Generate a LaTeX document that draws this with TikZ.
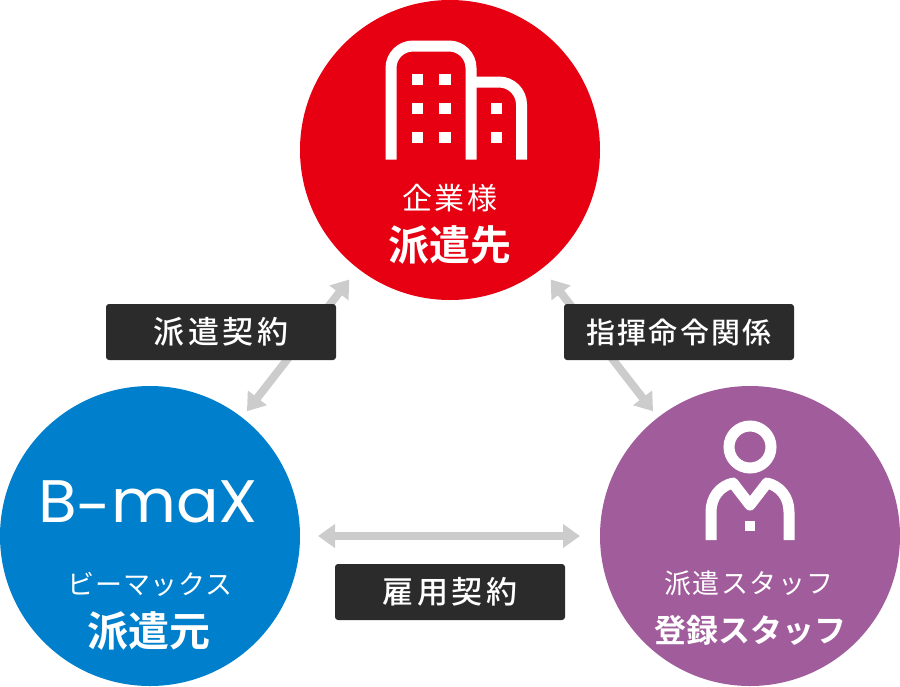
\documentclass[tikz,border=0pt]{standalone}
\usepackage{fontspec}
\usetikzlibrary{arrows.meta}
\setmainfont{Noto Sans CJK JP}[BoldFont={Noto Sans CJK JP Bold}]
\newfontfamily\tagfont{Noto Sans CJK JP Medium}
\newfontfamily\logofont{Poppins}
\definecolor{cred}{HTML}{E60012}
\definecolor{cblue}{HTML}{0080CC}
\definecolor{cpurple}{HTML}{A05C9B}
\definecolor{cgrey}{HTML}{CCCCCC}
\definecolor{cbox}{HTML}{2B2B2B}
\newcommand{\jp}[2]{\fontsize{#1}{#1}\selectfont\addfontfeatures{LetterSpace=#2}}
\tikzset{
  party/.style={circle,minimum size=300pt,inner sep=0pt,outer sep=0pt,draw=none},
  link/.style={draw=cgrey,line width=8pt,{Triangle[length=17pt,width=23pt]}-{Triangle[length=17pt,width=23pt]}},
  tag/.style={fill=cbox,rounded corners=3pt,minimum width=230pt,minimum height=56pt,inner sep=0pt,outer sep=0pt,text=white,font=\tagfont},
  caption/.style={text=white,inner sep=0pt,outer sep=0pt,anchor=center},
  icon/.style={draw=white,line width=11pt,line join=round},
  win/.style={fill=white,draw=none}
}
\begin{document}
\begin{tikzpicture}[x=1pt,y=-1pt]
\useasboundingbox (0,0) rectangle (900,686);
\node[party,fill=cred] (client) at (450,150) {};
\node[party,fill=cblue] (bmax) at (150,536) {};
\node[party,fill=cpurple] (staff) at (750,536) {};
% connectors
\draw[link,shorten <=14pt,shorten >=8pt] (client) -- (staff);
\draw[link,shorten <=14pt,shorten >=8pt] (client) -- (bmax);
\draw[link,shorten <=18pt,shorten >=20pt] (bmax) -- (staff);
% tags
\node[tag] (t1) at (221,332) {\jp{31}{12}派遣契約};
\node[tag] (t2) at (679,332) {\jp{29}{7}指揮命令関係};
\node[tag] (t3) at (450,592) {\jp{31}{12}雇用契約};
% building icon
\draw[icon] (391,159.5) -- (391,68) arc[start angle=180,end angle=270,radius=22] -- (449,46) arc[start angle=270,end angle=360,radius=22] -- (471,159.5);
\draw[icon] (471,82) -- (499,82) arc[start angle=270,end angle=360,radius=22.5] -- (521.5,159.5);
\foreach \x in {411.5,439}{\foreach \y in {73.5,102.5,131.5}{\fill[win] (\x,\y) rectangle ++(11.5,11.5);}}
\foreach \y in {102.5,131.5}{\fill[win] (490.5,\y) rectangle ++(11.5,11.5);}
% person icon
\draw[draw=white,line width=11pt] (750,447) circle[radius=21];
\draw[icon] (711,540) -- (711,512) .. controls (711,497) and (720,486) .. (733,483) -- (750,505) -- (767,483) .. controls (780,486) and (789,497) .. (789,512) -- (789,540);
\fill[win] (745,521) rectangle (755,530.5);
% captions
\node[caption] (c1) at (450,198) {\jp{30}{9}企業様};
\node[caption] (c2) at (450,245) {\jp{41}{0}\bfseries 派遣先};
\node[caption] (b0) at (148,505) {\logofont\fontsize{60}{60}\selectfont\scalebox{1.05}[1]{B\raisebox{-6pt}{-}maX}};
\node[caption] (b1) at (150,584) {\jp{27}{3}ビーマックス};
\node[caption] (b2) at (149,631) {\jp{41}{0}\bfseries 派遣元};
\node[caption] (s1) at (749,583) {\jp{27}{5}派遣スタッフ};
\node[caption] (s2) at (750,630) {\jp{32}{0}\bfseries 登録スタッフ};
\end{tikzpicture}
\end{document}
